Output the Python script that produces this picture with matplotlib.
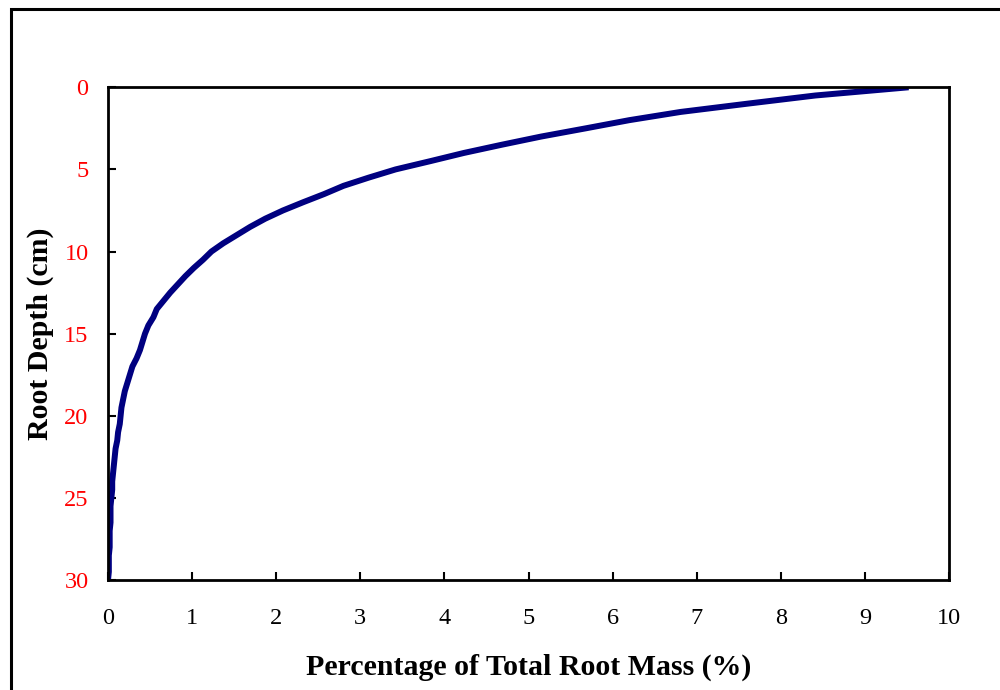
import matplotlib
matplotlib.use("Agg")
import matplotlib.pyplot as plt
from matplotlib.patches import Rectangle

plt.rcParams['font.family'] = ['Liberation Serif', 'DejaVu Serif']

depth_cm = [0, 0.5, 1, 1.5, 2, 2.5, 3, 3.5, 4, 4.5, 5, 5.5, 6, 6.5, 7, 7.5, 8, 8.5,
            9, 9.5, 10, 10.5, 11, 11.5, 12, 12.5, 13, 13.5, 14, 14.5, 15, 15.5, 16,
            16.5, 17, 17.5, 18, 18.5, 19, 19.5, 20, 20.5, 21, 21.5, 22, 22.5, 23,
            23.5, 24, 24.5, 25, 25.5, 26, 26.5, 27, 27.5, 28, 28.5, 29, 29.5, 30]
root_mass_pct = [9.52, 8.41, 7.60, 6.81, 6.20, 5.68, 5.15, 4.68, 4.23, 3.83, 3.42,
                 3.10, 2.80, 2.57, 2.32, 2.08, 1.87, 1.69, 1.53, 1.37, 1.23, 1.13,
                 1.02, 0.92, 0.83, 0.74, 0.66, 0.58, 0.54, 0.48, 0.44, 0.41, 0.38,
                 0.34, 0.29, 0.26, 0.23, 0.20, 0.18, 0.16, 0.15, 0.14, 0.12, 0.11,
                 0.09, 0.08, 0.07, 0.06, 0.05, 0.05, 0.04, 0.03, 0.03, 0.03, 0.02,
                 0.02, 0.02, 0.01, 0.01, 0.01, 0.0]
x_ticks = list(range(0, 11))
y_ticks = [0, 5, 10, 15, 20, 25, 30]

fig = plt.figure(figsize=(10, 6.9), dpi=100)
top = 1 - 9/690
fig.patches.append(Rectangle((0.011, -0.2), 1.5, top + 0.2, transform=fig.transFigure,
                             fill=False, edgecolor='black', linewidth=2.2, zorder=0))

ax = fig.add_axes([0.108, 0.1594, 0.841, 0.7141])
ax.plot(root_mass_pct, depth_cm, color='#000080', linewidth=4.3, solid_capstyle='butt')
ax.set_xlim(0, 10)
ax.set_ylim(30, 0)
ax.set_xticks(x_ticks)
ax.set_yticks(y_ticks)
ax.tick_params(direction='in', length=6, width=1.5, labelsize=17.5)
ax.tick_params(axis='x', pad=20)
ax.tick_params(axis='y', pad=14, labelcolor='red')
for s in ax.spines.values():
    s.set_linewidth(2)

ax.set_xlabel('Percentage of Total Root Mass (%)', fontsize=21.5, fontweight='bold', labelpad=18)
ax.set_ylabel('Root Depth (cm)', fontsize=21.5, fontweight='bold', labelpad=7)

fig.savefig('out.png', dpi=100)
